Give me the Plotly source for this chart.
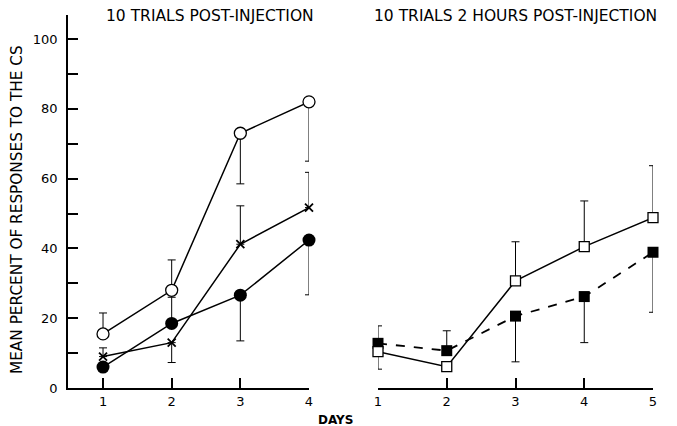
import plotly.graph_objects as go

days_left = [1, 2, 3, 4]
days_right = [1, 2, 3, 4, 5]

# Left panel: 10 trials post-injection
open_circle = [15.5, 28, 73, 82]
open_circle_up = [6, 8.7, 0, 0]
open_circle_down = [0, 0, 14.5, 17]

cross = [9, 13, 41.2, 51.7]
cross_up = [2.5, 0, 11, 10.1]
cross_down = [0, 5.7, 0, 0]

filled_circle = [6, 18.5, 26.6, 42.4]
filled_circle_up = [0, 7.5, 0, 0]
filled_circle_down = [0, 0, 13.1, 15.7]

# Right panel: 10 trials 2 hours post-injection
open_square = [10.4, 6.1, 30.7, 40.5, 48.8]
open_square_up = [0, 0, 11.2, 13.1, 14.9]
open_square_down = [5, 0, 0, 0, 0]

filled_square = [12.8, 10.7, 20.6, 26.2, 38.9]
filled_square_up = [5, 5.7, 0, 0, 0]
filled_square_down = [0, 0, 13.1, 13.2, 17.2]

y_tickvals = [0, 10, 20, 30, 40, 50, 60, 70, 80, 90, 100]
y_ticktext = ["0", "", "20", "", "40", "", "60", "", "80", "", "100"]
x_left_ticks = ["1", "2", "3", "4"]
x_right_ticks = ["1", "2", "3", "4", "5"]

FONT = "DejaVu Sans"
W, H = 677, 426

fig = go.Figure()

def err(up, down):
    return dict(type="data", symmetric=False, array=up, arrayminus=down,
                color="black", thickness=1, width=4)

fig.add_trace(go.Scatter(x=days_left, y=open_circle, mode="lines+markers",
    line=dict(color="black", width=1.5),
    marker=dict(symbol="circle", size=12, color="white", line=dict(color="black", width=1.3)),
    error_y=err(open_circle_up, open_circle_down), cliponaxis=False,
    xaxis="x", yaxis="y", showlegend=False))
fig.add_trace(go.Scatter(x=days_left, y=cross, mode="lines+markers",
    line=dict(color="black", width=1.5),
    marker=dict(symbol="x-thin", size=8, color="black", line=dict(color="black", width=1.8)),
    error_y=err(cross_up, cross_down), cliponaxis=False,
    xaxis="x", yaxis="y", showlegend=False))
fig.add_trace(go.Scatter(x=days_left, y=filled_circle, mode="lines+markers",
    line=dict(color="black", width=1.5),
    marker=dict(symbol="circle", size=13, color="black", line=dict(color="black", width=0)),
    error_y=err(filled_circle_up, filled_circle_down), cliponaxis=False,
    xaxis="x", yaxis="y", showlegend=False))

fig.add_trace(go.Scatter(x=days_right, y=filled_square, mode="lines+markers",
    line=dict(color="black", width=1.8, dash="dash"),
    marker=dict(symbol="square", size=11, color="black", line=dict(color="black", width=0)),
    error_y=err(filled_square_up, filled_square_down), cliponaxis=False,
    xaxis="x2", yaxis="y2", showlegend=False))
fig.add_trace(go.Scatter(x=days_right, y=open_square, mode="lines+markers",
    line=dict(color="black", width=1.5),
    marker=dict(symbol="square", size=10, color="white", line=dict(color="black", width=1.3)),
    error_y=err(open_square_up, open_square_down), cliponaxis=False,
    xaxis="x2", yaxis="y2", showlegend=False))

ybot = 1 - 388 / H
ytop = 1 - 14.6 / H

axis_common = dict(showgrid=False, zeroline=False, showline=True, linecolor="black",
                   linewidth=1.8, ticks="inside", ticklen=10, tickwidth=1.5,
                   tickcolor="black", tickfont=dict(family=FONT, size=13, color="black"))

fig.update_layout(
    width=W, height=H,
    margin=dict(l=0, r=0, t=0, b=0, autoexpand=False),
    plot_bgcolor="white", paper_bgcolor="white",
    xaxis=dict(domain=[68 / W, 309 / W], range=[0.49, 4.0], automargin=False,
               tickvals=days_left, ticktext=x_left_ticks, anchor="y", **axis_common),
    yaxis=dict(domain=[ybot, ytop], range=[0, 107], tickvals=y_tickvals, automargin=False,
               ticktext=y_ticktext, anchor="x", ticklabelstandoff=6, **axis_common),
    xaxis2=dict(domain=[378 / W, 653 / W], range=[1, 5], automargin=False,
                tickvals=days_right, ticktext=x_right_ticks, anchor="y2", **axis_common),
    yaxis2=dict(domain=[ybot, ytop], range=[0, 107], anchor="x2", visible=False),
    annotations=[
        dict(text="10 TRIALS POST-INJECTION", x=210 / W, y=1 - 16 / H, xref="paper", yref="paper",
             showarrow=False, font=dict(family=FONT, size=15.5, color="black"), xanchor="center", yanchor="middle"),
        dict(text="10 TRIALS 2 HOURS POST-INJECTION", x=515 / W, y=1 - 16 / H, xref="paper", yref="paper",
             showarrow=False, font=dict(family=FONT, size=15.5, color="black"), xanchor="center", yanchor="middle"),
        dict(text="MEAN PERCENT OF RESPONSES TO THE CS", x=17 / W, y=1 - 210 / H, xref="paper", yref="paper",
             textangle=-90, showarrow=False, font=dict(family=FONT, size=15.3, color="black"),
             xanchor="center", yanchor="middle"),
        dict(text="<b>DAYS</b>", x=335 / W, y=1 - 420 / H, xref="paper", yref="paper",
             showarrow=False, font=dict(family=FONT, size=12, color="black"), xanchor="center", yanchor="middle"),
    ],
)

fig.write_html("out.html", config={"responsive": False, "displayModeBar": False},
               post_script="document.body.style.margin='0';document.body.style.overflow='hidden';")
